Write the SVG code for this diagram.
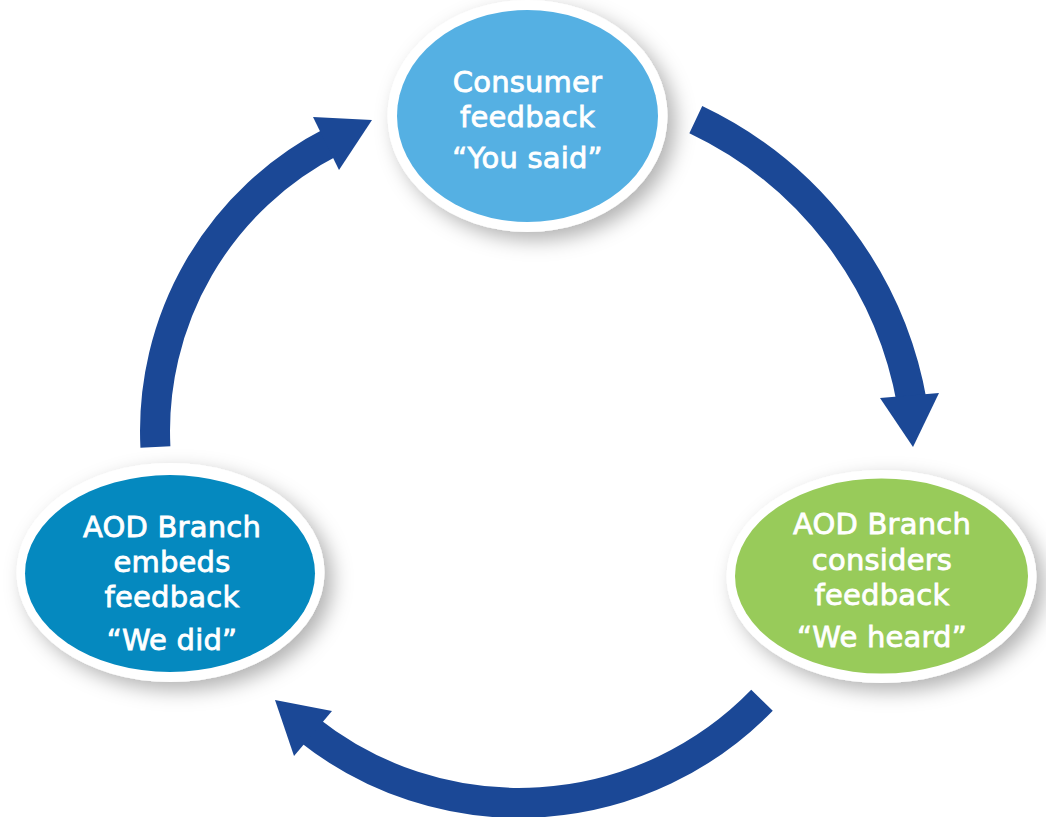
<svg xmlns="http://www.w3.org/2000/svg" width="1046" height="817" viewBox="0 0 1046 817">
  <defs>
    <filter id="soft-shadow" x="-20%" y="-20%" width="150%" height="150%">
      <feDropShadow dx="8" dy="8" stdDeviation="10" flood-color="#000000" flood-opacity="0.3"/>
    </filter>
    <style>
      .ring { fill: #ffffff; filter: url(#soft-shadow); }
      .label { font-family: "DejaVu Sans", "Liberation Sans", sans-serif; font-size: 29px; fill: #ffffff; stroke: #ffffff; stroke-width: 0.8px; text-anchor: middle; letter-spacing: 0.2px; }
      .shaft { fill: none; stroke: #1b4896; stroke-width: 30; stroke-linecap: butt; }
      .head { fill: #1b4896; }
    </style>
  </defs>

  <rect x="0" y="0" width="1046" height="817" fill="#ffffff"/>

  <!-- Curved arrows running clockwise between the three stages -->
  <g id="connectors">
    <g id="arrow-you-said-to-we-heard">
      <path class="shaft" d="M 695.8 119.6 A 389 389 0 0 1 912.1 403.5"/>
      <polygon class="head" points="880,398 939,393 913,447"/>
    </g>
    <g id="arrow-we-heard-to-we-did">
      <path class="shaft" d="M 762 700.3 A 339 339 0 0 1 308 729.3"/>
      <polygon class="head" points="332,711 294,756 275,700"/>
    </g>
    <g id="arrow-we-did-to-you-said">
      <path class="shaft" d="M 155.4 446.9 A 325 325 0 0 1 332.5 141.4"/>
      <polygon class="head" points="313,117 339,170 372,120"/>
    </g>
  </g>

  <!-- Stage: consumer feedback -->
  <g id="node-you-said">
    <ellipse class="ring" cx="527.5" cy="116" rx="140" ry="116"/>
    <ellipse cx="527.5" cy="116" rx="130.5" ry="106" fill="#55b0e3"/>
    <text class="label" x="527.5" y="92">Consumer</text>
    <text class="label" x="527.5" y="127">feedback</text>
    <text class="label" x="527.5" y="168">“You said”</text>
  </g>

  <!-- Stage: branch considers feedback -->
  <g id="node-we-heard">
    <ellipse class="ring" cx="881.5" cy="576.5" rx="155" ry="106.5"/>
    <ellipse cx="881.5" cy="576" rx="146.5" ry="97.5" fill="#98cb5a"/>
    <text class="label" x="882" y="534">AOD Branch</text>
    <text class="label" x="882" y="570">considers</text>
    <text class="label" x="882" y="605">feedback</text>
    <text class="label" x="882" y="647">“We heard”</text>
  </g>

  <!-- Stage: branch embeds feedback -->
  <g id="node-we-did">
    <ellipse class="ring" cx="170.5" cy="572.5" rx="154" ry="109.5"/>
    <ellipse cx="170" cy="573.5" rx="145" ry="98.5" fill="#0589bf"/>
    <text class="label" x="172" y="537">AOD Branch</text>
    <text class="label" x="172" y="572">embeds</text>
    <text class="label" x="172" y="607">feedback</text>
    <text class="label" x="172" y="650">“We did”</text>
  </g>
</svg>
